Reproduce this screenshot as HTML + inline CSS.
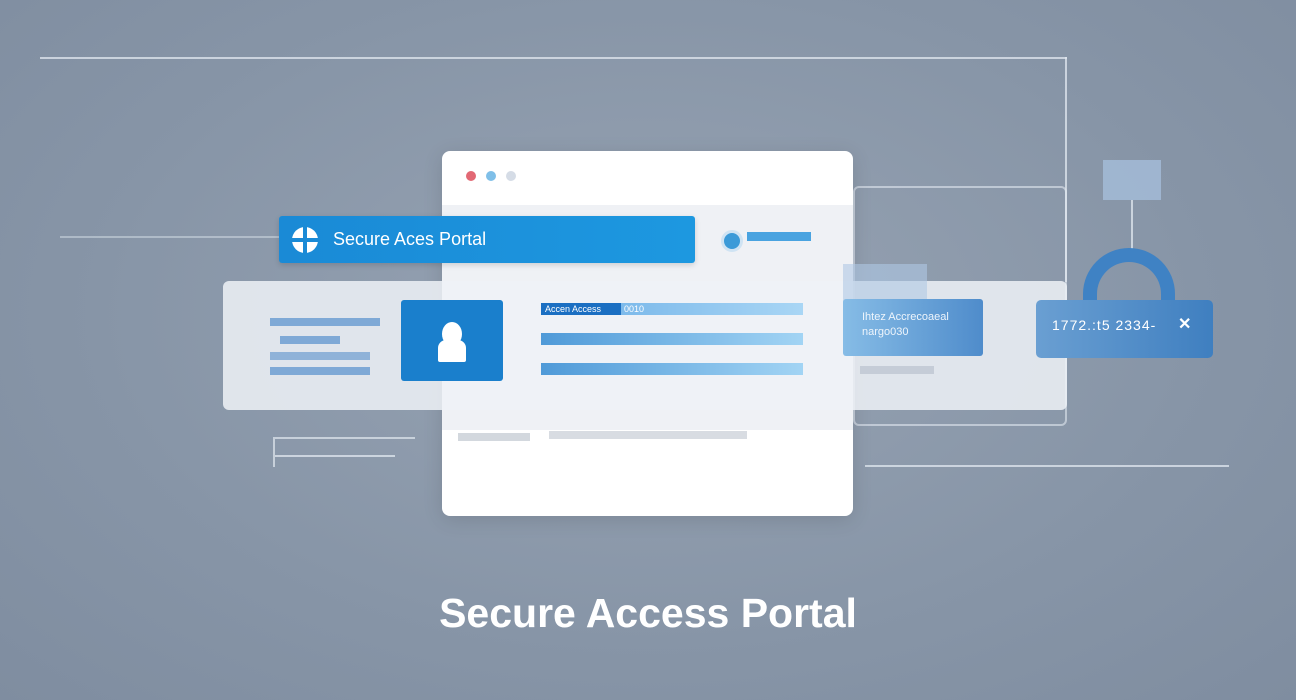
<!DOCTYPE html>
<html><head><meta charset="utf-8"><style>
body{margin:0;width:1296px;height:700px;overflow:hidden;background:radial-gradient(ellipse at 50% 45%,#97a3b3 0%,#8795a7 60%,#7f8da0 100%);font-family:"Liberation Sans",sans-serif;position:relative}
div{position:absolute;box-sizing:border-box}
.ln{background:rgba(225,232,240,0.75)}
</style></head><body>
<div class="ln" style="left:40px;top:57px;width:1027px;height:2px"></div>
<div class="ln" style="left:1065px;top:57px;width:2px;height:225px"></div>
<div style="left:853px;top:186px;width:214px;height:240px;border:2px solid rgba(225,232,240,0.6);border-radius:6px"></div>
<div class="ln" style="left:865px;top:465px;width:364px;height:2px"></div>
<div class="ln" style="left:60px;top:236px;width:220px;height:2px;opacity:.6"></div>
<div style="left:273px;top:437px;width:142px;height:30px;border:2px solid rgba(225,232,240,0.7);border-right:none;border-bottom:none"></div>
<div class="ln" style="left:275px;top:455px;width:120px;height:2px"></div>
<div style="left:1103px;top:160px;width:58px;height:40px;background:rgba(170,195,225,0.7)"></div>
<div class="ln" style="left:1131px;top:200px;width:2px;height:50px"></div>
<!-- main window -->
<div style="left:442px;top:151px;width:411px;height:365px;background:#fff;border-radius:8px;box-shadow:0 4px 20px rgba(0,0,0,.12)"></div>
<div style="left:442px;top:205px;width:411px;height:225px;background:rgba(225,230,237,0.55)"></div>
<div style="left:466px;top:171px;width:10px;height:10px;border-radius:50%;background:#e26874"></div>
<div style="left:486px;top:171px;width:10px;height:10px;border-radius:50%;background:#7fbfe8"></div>
<div style="left:506px;top:171px;width:10px;height:10px;border-radius:50%;background:#d5dce6"></div>
<div style="left:458px;top:433px;width:72px;height:8px;background:#d3d8de"></div>
<div style="left:549px;top:431px;width:198px;height:8px;background:#d8dce2"></div>
<!-- wide panel -->
<div style="left:223px;top:281px;width:844px;height:129px;background:rgba(238,242,247,0.85);border-radius:6px"></div>
<div style="left:270px;top:318px;width:110px;height:8px;background:#7fa9d6"></div>
<div style="left:280px;top:336px;width:60px;height:8px;background:#7fa9d6"></div>
<div style="left:270px;top:352px;width:100px;height:8px;background:#8fb2d8"></div>
<div style="left:270px;top:367px;width:100px;height:8px;background:#7fa9d6"></div>
<!-- blue bar -->
<div style="left:279px;top:216px;width:416px;height:47px;background:linear-gradient(90deg,#1a8ad6,#1d98e0);border-radius:3px;box-shadow:0 2px 6px rgba(0,0,0,.15)"></div>
<div style="left:292px;top:227px;width:26px;height:26px;border-radius:50%;background:#fff"></div>
<div style="left:303px;top:227px;width:4px;height:26px;background:#1a8ad6"></div>
<div style="left:292px;top:238px;width:26px;height:4px;background:#1a8ad6"></div>
<div style="left:333px;top:229px;color:#fff;font-size:18px">Secure Aces Portal</div>
<div style="left:721px;top:230px;width:22px;height:22px;border-radius:50%;background:#3b9ad8;border:3px solid #cfe3f3"></div>
<div style="left:747px;top:232px;width:64px;height:9px;background:#49a3e0"></div>
<!-- avatar -->
<div style="left:401px;top:300px;width:102px;height:81px;background:#1a7fcc;border-radius:3px"></div>
<div style="left:442px;top:322px;width:20px;height:24px;border-radius:50%;background:#fff"></div>
<div style="left:438px;top:340px;width:28px;height:22px;border-radius:8px 8px 2px 2px;background:#fff"></div>
<!-- bars -->
<div style="left:541px;top:303px;width:262px;height:12px;background:linear-gradient(90deg,#6aaee6,#a9d6f5)"></div>
<div style="left:541px;top:303px;width:80px;height:12px;background:#1b6fc2;color:#fff;font-size:9px;line-height:12px;padding-left:4px">Accen Access</div>
<div style="left:624px;top:303px;color:#fff;font-size:9px;line-height:12px">0010</div>
<div style="left:541px;top:333px;width:262px;height:12px;background:linear-gradient(90deg,#4f9ad8,#a2d4f4)"></div>
<div style="left:541px;top:363px;width:262px;height:12px;background:linear-gradient(90deg,#4f9ad8,#a2d4f4)"></div>
<!-- right box -->
<div style="left:843px;top:264px;width:84px;height:40px;background:rgba(175,200,228,0.6)"></div>
<div style="left:843px;top:299px;width:140px;height:57px;background:linear-gradient(90deg,#86bce6,#4f8ccb);border-radius:3px"></div>
<div style="left:862px;top:310px;color:#eef5fc;font-size:11px;line-height:15px">Ihtez Accrecoaeal<br>nargo030</div>
<div style="left:860px;top:366px;width:74px;height:8px;background:rgba(190,198,210,0.8)"></div>
<!-- lock -->
<div style="left:1083px;top:248px;width:92px;height:80px;border:14px solid #3f82c4;border-bottom:none;border-radius:46px 46px 0 0"></div>
<div style="left:1036px;top:300px;width:177px;height:58px;background:linear-gradient(90deg,#6a9fd2,#3f7fc0);border-radius:5px"></div>
<div style="left:1052px;top:317px;color:#fff;font-size:14px;letter-spacing:1px">1772.:t5 2334-</div>
<div style="left:1178px;top:314px;color:#fff;font-size:16px;font-weight:bold">✕</div>
<!-- title -->
<div style="left:0;top:590px;width:1296px;text-align:center;color:#fff;font-size:41px;font-weight:bold">Secure Access Portal</div>
</body></html>
